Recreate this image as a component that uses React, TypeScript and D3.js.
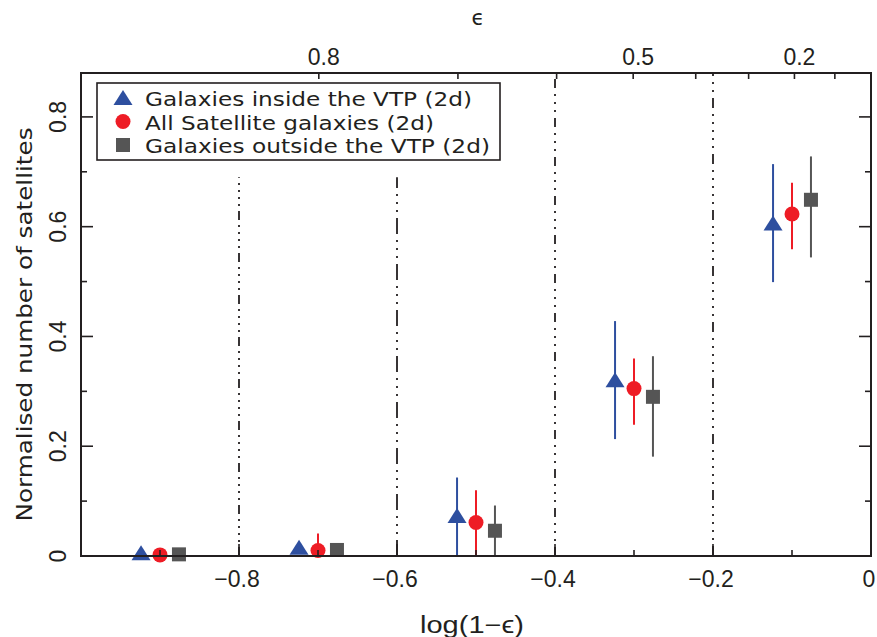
import React from 'react';
import * as d3 from 'd3';

// x positions (log(1-eps)) of the groups
const groupX = [-0.9, -0.7, -0.5, -0.3, -0.1];
const seriesOffset = [-0.024, 0, 0.024];

// Galaxies inside the VTP (2d)
const insideY = [0.005, 0.015, 0.073, 0.32, 0.606];
const insideLo = [0.005, 0.015, 0.0, 0.213, 0.499];
const insideHi = [0.005, 0.015, 0.143, 0.428, 0.714];
// All satellite galaxies (2d)
const allY = [0.002, 0.01, 0.061, 0.305, 0.623];
const allLo = [0.002, 0.01, 0.0, 0.239, 0.559];
const allHi = [0.002, 0.041, 0.12, 0.36, 0.68];
// Galaxies outside the VTP (2d)
const outY = [0.003, 0.011, 0.046, 0.29, 0.649];
const outLo = [0.003, 0.011, 0.0, 0.181, 0.544];
const outHi = [0.003, 0.011, 0.092, 0.364, 0.728];

const legendLabels = [
  'Galaxies inside the VTP (2d)',
  'All Satellite galaxies (2d)',
  'Galaxies outside the VTP (2d)',
];
const seriesColors = ['#2E4F9F', '#EE1C25', '#555555'];

const xMajorTicks = [-0.8, -0.6, -0.4, -0.2, 0];
const xMajorLabels = ['\u22120.8', '\u22120.6', '\u22120.4', '\u22120.2', '0'];
const xMinorTicks = [-0.9, -0.7, -0.5, -0.3, -0.1];
const yMajorTicks = [0, 0.2, 0.4, 0.6, 0.8];
const yMajorLabels = ['0', '0.2', '0.4', '0.6', '0.8'];
const yMinorTicks = [0.1, 0.3, 0.5, 0.7];
const epsTicks = [0.1, 0.2, 0.3, 0.4, 0.5, 0.6, 0.7, 0.8, 0.9];
const epsLabelled = [0.8, 0.5, 0.2];

const refLineX = [-0.8, -0.6, -0.4, -0.2];
const refLineTop = [0.69, 0.69, 0.88, 0.88];
const refLineDash = [
  '9,5,2,5,2,5,2,5,2,5',
  '16,6,2,6,2,6,2,6',
  '9,6,2,6,2,6,2,6',
  '10,6,2,6,2,6,2,6,2,6,2,6',
];

const W = 877;
const H = 637;
const left = 81;
const right = 871;
const top = 73;
const bottom = 556;

export default function App() {
  const x = d3.scaleLinear().domain([-1, 0]).range([left, right]);
  const y = d3.scaleLinear().domain([0, 0.88]).range([bottom, top]);
  const ink = '#231F20';
  const tickFont = '"Liberation Sans", Arial, sans-serif';
  const textFont = '"DejaVu Sans", sans-serif';
  const tickSize = 23;

  const series = [
    { ys: insideY, lo: insideLo, hi: insideHi, shape: 'tri' },
    { ys: allY, lo: allLo, hi: allHi, shape: 'circ' },
    { ys: outY, lo: outLo, hi: outHi, shape: 'sq' },
  ];

  const marker = (shape: string, cx: number, cy: number, color: string, key: string) => {
    if (shape === 'tri') {
      const p = d3.path();
      p.moveTo(cx, cy - 8);
      p.lineTo(cx + 9.5, cy + 7);
      p.lineTo(cx - 9.5, cy + 7);
      p.closePath();
      return <path key={key} d={p.toString()} fill={color} />;
    }
    if (shape === 'circ') {
      return <circle key={key} cx={cx} cy={cy} r={7.5} fill={color} />;
    }
    return <rect key={key} x={cx - 7} y={cy - 7} width={14} height={14} fill={color} />;
  };

  return (
    <div style={{ position: 'absolute', left: 0, top: 0 }}>
      <svg width={W} height={H} style={{ display: 'block', background: '#fff' }}>
        {/* reference lines */}
        {refLineX.map((v, i) => (
          <line
            key={'ref' + i}
            x1={x(v)}
            x2={x(v)}
            y1={y(0)}
            y2={y(refLineTop[i])}
            stroke={ink}
            strokeWidth={1.8}
            strokeDasharray={refLineDash[i]}
          />
        ))}

        {/* error bars */}
        {series.map((s, si) =>
          groupX.map((gx, gi) => (
            <line
              key={'eb' + si + '-' + gi}
              x1={x(gx + seriesOffset[si])}
              x2={x(gx + seriesOffset[si])}
              y1={y(s.lo[gi])}
              y2={y(s.hi[gi])}
              stroke={seriesColors[si]}
              strokeWidth={2}
            />
          ))
        )}
        {/* markers */}
        {series.map((s, si) =>
          groupX.map((gx, gi) =>
            marker(s.shape, x(gx + seriesOffset[si]), y(s.ys[gi]), seriesColors[si], 'm' + si + '-' + gi)
          )
        )}

        {/* frame */}
        <rect x={left} y={top} width={right - left} height={bottom - top} fill="none" stroke={ink} strokeWidth={2} />

        {/* bottom ticks */}
        {xMajorTicks.map((v, i) => (
          <line key={'xb' + i} x1={x(v)} x2={x(v)} y1={bottom} y2={bottom - 12} stroke={ink} strokeWidth={1.6} />
        ))}
        {xMinorTicks.map((v, i) => (
          <line key={'xbm' + i} x1={x(v)} x2={x(v)} y1={bottom} y2={bottom - 6} stroke={ink} strokeWidth={1.6} />
        ))}
        {xMajorTicks.map((v, i) => (
          <text
            key={'xl' + i}
            x={x(v) - 2}
            y={587}
            textAnchor="middle"
            fontFamily={tickFont}
            fontSize={tickSize}
            fill={ink}
          >
            {xMajorLabels[i]}
          </text>
        ))}

        {/* top eps ticks */}
        {epsTicks.map((e, i) => (
          <line
            key={'et' + i}
            x1={x(Math.log10(1 - e))}
            x2={x(Math.log10(1 - e))}
            y1={top}
            y2={top + 6}
            stroke={ink}
            strokeWidth={1.6}
          />
        ))}
        {epsLabelled.map((e, i) => (
          <text
            key={'el' + i}
            x={x(Math.log10(1 - e)) + 5}
            y={65}
            textAnchor="middle"
            fontFamily={tickFont}
            fontSize={tickSize}
            fill={ink}
          >
            {String(e)}
          </text>
        ))}

        {/* y ticks left and right */}
        {yMajorTicks.map((v, i) => (
          <g key={'yt' + i}>
            <line x1={left} x2={left + 12} y1={y(v)} y2={y(v)} stroke={ink} strokeWidth={1.6} />
            <line x1={right} x2={right - 12} y1={y(v)} y2={y(v)} stroke={ink} strokeWidth={1.6} />
          </g>
        ))}
        {yMinorTicks.map((v, i) => (
          <g key={'ytm' + i}>
            <line x1={left} x2={left + 6} y1={y(v)} y2={y(v)} stroke={ink} strokeWidth={1.6} />
            <line x1={right} x2={right - 6} y1={y(v)} y2={y(v)} stroke={ink} strokeWidth={1.6} />
          </g>
        ))}
        {yMajorLabels.map((lab, i) => (
          <text
            key={'yl' + i}
            transform={`translate(${66},${y(yMajorTicks[i])}) rotate(-90)`}
            textAnchor="middle"
            fontFamily={tickFont}
            fontSize={tickSize}
            fill={ink}
          >
            {lab}
          </text>
        ))}

        {/* axis titles */}
        <text
          transform={`translate(${32},${(top + bottom) / 2 + 10}) rotate(-90)`}
          textAnchor="middle"
          fontFamily={textFont}
          fontSize={21}
          fill={ink}
          textLength={394}
          lengthAdjust="spacingAndGlyphs"
        >
          Normalised number of satellites
        </text>
        <text
          x={472}
          y={633}
          textAnchor="middle"
          fontFamily={tickFont}
          fontSize={tickSize}
          fill={ink}
          textLength={104}
          lengthAdjust="spacingAndGlyphs"
        >
          log(1{'\u2212'}{'\u03F5'})
        </text>
        <text x={478} y={25} textAnchor="middle" fontFamily={textFont} fontSize={21} fill={ink}>
          {'\u03F5'}
        </text>

        {/* legend */}
        <rect x={97} y={83} width={403} height={77} fill="#fff" stroke={ink} strokeWidth={1.6} />
        {legendLabels.map((lab, i) => (
          <g key={'lg' + i}>
            {marker(series[i].shape, 123, 98 + i * 23.5, seriesColors[i], 'lm' + i)}
            <text
              x={145}
              y={106 + i * 23.5}
              fontFamily={textFont}
              fontSize={20}
              fill={ink}
              textLength={[327, 289, 345][i]}
              lengthAdjust="spacingAndGlyphs"
            >
              {lab}
            </text>
          </g>
        ))}
      </svg>
    </div>
  );
}
